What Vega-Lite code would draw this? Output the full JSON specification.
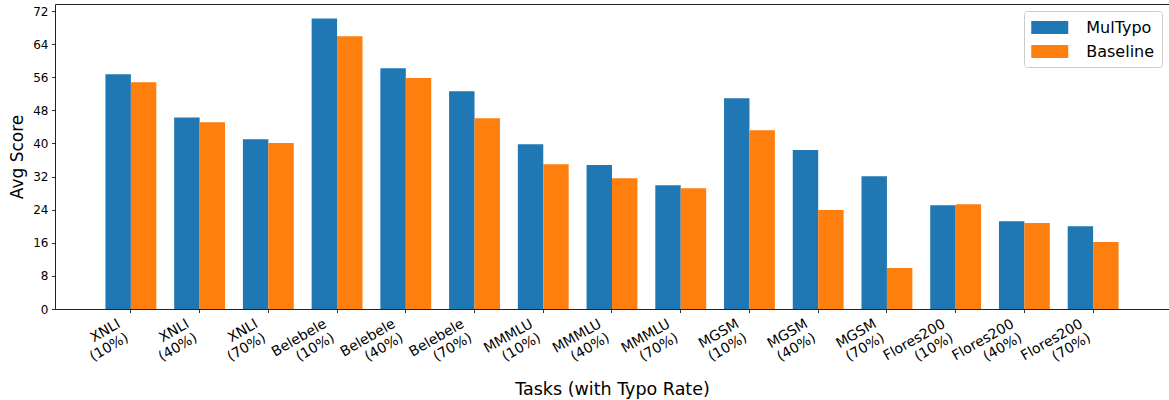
{
  "$schema": "https://vega.github.io/schema/vega-lite/v6.json",
  "autosize": "none",
  "width": 1114,
  "height": 305,
  "padding": {"left": 55, "top": 4, "right": 0, "bottom": 91},
  "background": "white",
  "config": {
    "font": "DejaVu Sans",
    "view": {"stroke": "#222222", "strokeWidth": 1},
    "axis": {"grid": false, "domain": false, "tickColor": "#000000", "tickWidth": 0.8, "tickSize": 3.5, "labelColor": "#000000", "titleColor": "#000000", "titleFontWeight": "normal", "labelFont": "DejaVu Sans", "titleFont": "DejaVu Sans"}
  },
  "data": {
    "values": [
      {"task": "XNLI (10%)", "series": "MulTypo", "score": 56.7},
      {"task": "XNLI (10%)", "series": "Baseline", "score": 54.8},
      {"task": "XNLI (40%)", "series": "MulTypo", "score": 46.3},
      {"task": "XNLI (40%)", "series": "Baseline", "score": 45.1},
      {"task": "XNLI (70%)", "series": "MulTypo", "score": 41.0},
      {"task": "XNLI (70%)", "series": "Baseline", "score": 40.1},
      {"task": "Belebele (10%)", "series": "MulTypo", "score": 70.2},
      {"task": "Belebele (10%)", "series": "Baseline", "score": 65.9},
      {"task": "Belebele (40%)", "series": "MulTypo", "score": 58.2},
      {"task": "Belebele (40%)", "series": "Baseline", "score": 55.8},
      {"task": "Belebele (70%)", "series": "MulTypo", "score": 52.6},
      {"task": "Belebele (70%)", "series": "Baseline", "score": 46.1},
      {"task": "MMMLU (10%)", "series": "MulTypo", "score": 39.8},
      {"task": "MMMLU (10%)", "series": "Baseline", "score": 35.0},
      {"task": "MMMLU (40%)", "series": "MulTypo", "score": 34.8},
      {"task": "MMMLU (40%)", "series": "Baseline", "score": 31.6},
      {"task": "MMMLU (70%)", "series": "MulTypo", "score": 29.9},
      {"task": "MMMLU (70%)", "series": "Baseline", "score": 29.2},
      {"task": "MGSM (10%)", "series": "MulTypo", "score": 50.9},
      {"task": "MGSM (10%)", "series": "Baseline", "score": 43.2},
      {"task": "MGSM (40%)", "series": "MulTypo", "score": 38.4},
      {"task": "MGSM (40%)", "series": "Baseline", "score": 23.9},
      {"task": "MGSM (70%)", "series": "MulTypo", "score": 32.1},
      {"task": "MGSM (70%)", "series": "Baseline", "score": 9.9},
      {"task": "Flores200 (10%)", "series": "MulTypo", "score": 25.1},
      {"task": "Flores200 (10%)", "series": "Baseline", "score": 25.3},
      {"task": "Flores200 (40%)", "series": "MulTypo", "score": 21.2},
      {"task": "Flores200 (40%)", "series": "Baseline", "score": 20.8},
      {"task": "Flores200 (70%)", "series": "MulTypo", "score": 20.0},
      {"task": "Flores200 (70%)", "series": "Baseline", "score": 16.2}
    ]
  },
  "mark": {"type": "bar"},
  "encoding": {
    "x": {
      "field": "task",
      "type": "nominal",
      "sort": null,
      "scale": {"paddingInner": 0.26, "paddingOuter": 0.734},
      "axis": {
        "title": "Tasks (with Typo Rate)",
        "titleFontSize": 17.5,
        "titlePadding": 4,
        "labelExpr": "split(datum.label, ' ')",
        "labelAngle": -30,
        "labelAlign": "right",
        "labelBaseline": "top",
        "labelOffset": -15,
        "labelPadding": 4,
        "labelFontSize": 14,
        "labelLineHeight": 16,
        "labelOverlap": false,
        "labelBound": false,
        "labelFlush": false
      }
    },
    "xOffset": {
      "field": "series",
      "type": "nominal",
      "sort": ["MulTypo", "Baseline"],
      "scale": {"paddingInner": 0, "paddingOuter": 0}
    },
    "y": {
      "field": "score",
      "type": "quantitative",
      "scale": {"domain": [0, 73.7], "nice": false, "zero": true},
      "axis": {
        "title": "Avg Score",
        "titleFontSize": 17,
        "titlePadding": 6,
        "values": [0, 8, 16, 24, 32, 40, 48, 56, 64, 72],
        "labelFontSize": 12,
        "labelPadding": 3.5
      }
    },
    "color": {
      "field": "series",
      "type": "nominal",
      "scale": {"domain": ["MulTypo", "Baseline"], "range": ["#1f77b4", "#ff7f0e"]},
      "legend": {
        "title": null,
        "orient": "top-right",
        "offset": 7,
        "labelFontSize": 16,
        "labelFont": "DejaVu Sans",
        "labelColor": "#000000",
        "symbolType": "M-2,-0.7H2V0.7H-2Z",
        "symbolSize": 342,
        "symbolOffset": 9.25,
        "symbolStrokeWidth": 0,
        "symbolOpacity": 1,
        "labelOffset": 27,
        "rowPadding": 6,
        "padding": 7,
        "strokeColor": "#cccccc",
        "fillColor": "rgba(255,255,255,0.8)",
        "cornerRadius": 3
      }
    }
  }
}
